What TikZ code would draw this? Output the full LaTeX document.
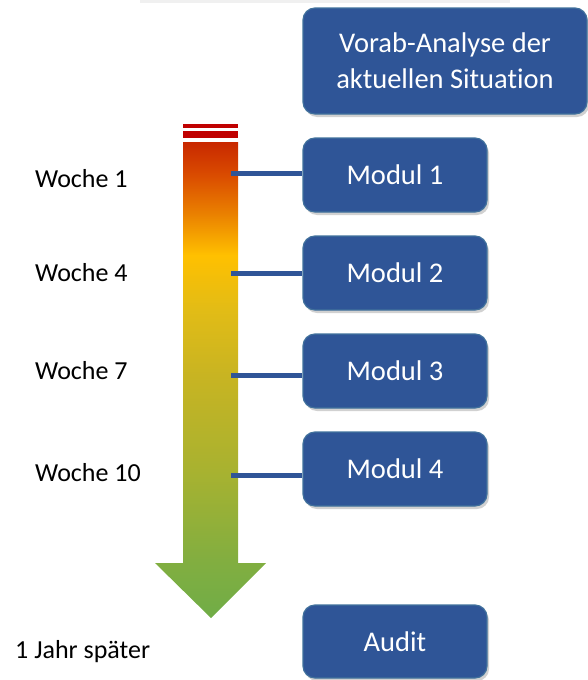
\documentclass[tikz,border=0pt]{standalone}
\usepackage{fontspec}
\setmainfont{Carlito}[Ligatures=CommonOff]
\usetikzlibrary{shadows}

\definecolor{modblue}{HTML}{2F5597}
\definecolor{modedge}{HTML}{41719C}
\definecolor{stripered}{HTML}{C00000}

\pgfdeclareverticalshading{timeline}{100bp}{%
  color(0bp)=(green!50!black);
  color(25bp)=({rgb,255:red,112;green,173;blue,71});
  color(31.1bp)=({rgb,255:red,130;green,174;blue,64});
  color(40.5bp)=({rgb,255:red,168;green,178;blue,48});
  color(50.5bp)=({rgb,255:red,200;green,180;blue,34});
  color(57.4bp)=({rgb,255:red,226;green,188;blue,22});
  color(63.1bp)=({rgb,255:red,255;green,192;blue,0});
  color(67.5bp)=({rgb,255:red,234;green,128;blue,0});
  color(71.5bp)=({rgb,255:red,218;green,76;blue,0});
  color(75bp)=({rgb,255:red,200;green,40;blue,0});
  color(100bp)=({rgb,255:red,200;green,40;blue,0})}

\begin{document}
\begin{tikzpicture}[x=1pt,y=-1pt,
  modbox/.style={draw=modedge,line width=1.2pt,fill=modblue,rounded corners=12pt,
    text=white,font=\fontsize{28.5}{36}\selectfont,align=center,
    drop shadow={shadow xshift=2pt,shadow yshift=-3pt,opacity=0.3,fill=black!60}},
  week/.style={anchor=base west,font=\fontsize{26}{30}\selectfont,inner sep=0pt},
  link/.style={draw=modblue,line width=5pt}]
\useasboundingbox (0,0) rectangle (587,680);
% shadow of the box above the frame
\fill[black!6] (140,0) rectangle (510,2.5);
% time arrow
\fill[stripered] (183,124) rectangle (238,128);
\fill[stripered] (183,131) rectangle (238,138);
\shade[shading=timeline] (183,142) -- (238,142) -- (238,563) -- (266,563)
  -- (211,618) -- (155,563) -- (183,563) -- cycle;
% boxes
\node[modbox,minimum width=284pt,minimum height=106pt] (vorab) at (445,61)
  {Vorab-Analyse der\\aktuellen Situation};
\node[modbox,minimum width=184pt,minimum height=74pt] (m1) at (395,175) {Modul 1};
\node[modbox,minimum width=184pt,minimum height=74pt] (m2) at (395,273) {Modul 2};
\node[modbox,minimum width=184pt,minimum height=74pt] (m3) at (395,371) {Modul 3};
\node[modbox,minimum width=184pt,minimum height=74pt] (m4) at (395,469) {Modul 4};
\node[modbox,minimum width=184pt,minimum height=73pt] (audit) at (395,641.5) {Audit};
% labels
\node[week] (w1) at (35,187) {Woche 1};
\node[week] (w4) at (35,281) {Woche 4};
\node[week] (w7) at (35,379) {Woche 7};
\node[week] (w10) at (35,481) {Woche 10};
\node[week] (jahr) at (15,658) {1 Jahr später};
% connectors
\coordinate (c1) at (231,173);
\coordinate (c2) at (231,273);
\coordinate (c3) at (231,375);
\coordinate (c4) at (231,475);
\draw[link] (c1) -- (m1.west |- c1);
\draw[link] (c2) -- (m2.west |- c2);
\draw[link] (c3) -- (m3.west |- c3);
\draw[link] (c4) -- (m4.west |- c4);
\end{tikzpicture}
\end{document}
